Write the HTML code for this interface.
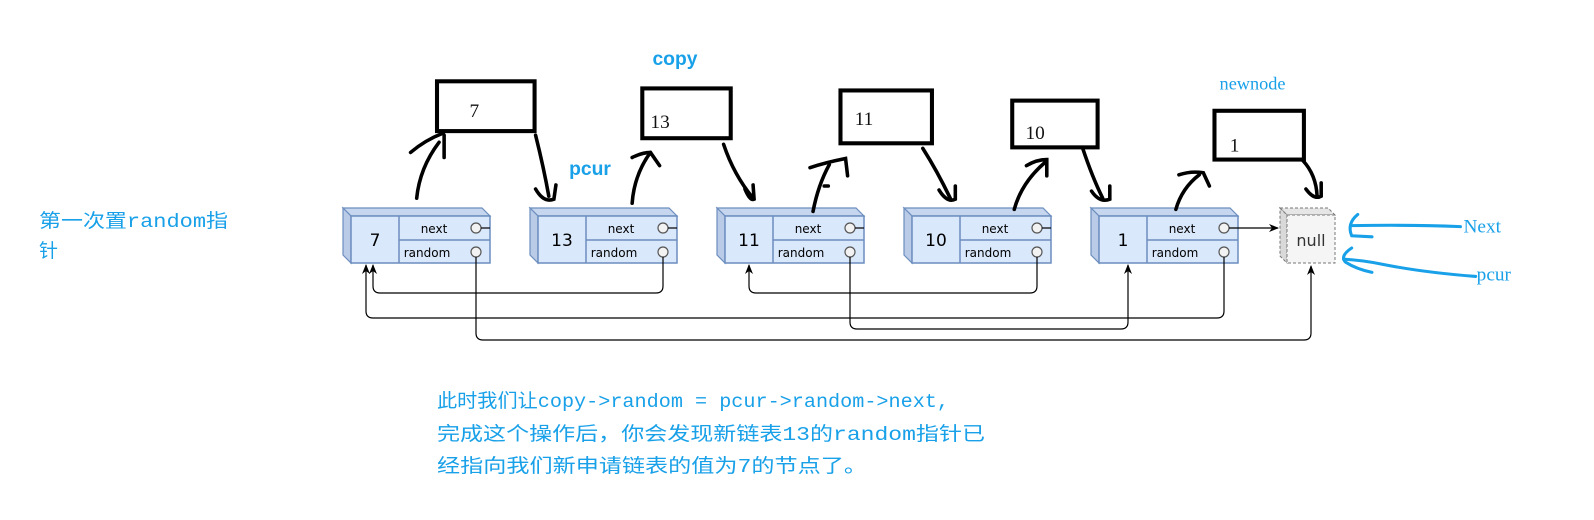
<!DOCTYPE html>
<html><head><meta charset="utf-8"><style>
html,body{margin:0;padding:0;background:#fff;}
svg{display:block;}
.nd{font-family:"DejaVu Sans","Liberation Sans",sans-serif;}
</style></head><body>
<svg width="1594" height="520" viewBox="0 0 1594 520" xmlns="http://www.w3.org/2000/svg">
<defs>
<marker id="ah" markerWidth="10" markerHeight="10" refX="9" refY="5" orient="auto" markerUnits="userSpaceOnUse">
<path d="M0,1 L10,5 L0,9 L3,5 Z" fill="#000"/></marker>
<g id="node">
<polygon points="0,0 139,0 147,8 8,8" fill="#c6d6ee" stroke="#6c8ebf" stroke-width="1.2"/>
<polygon points="0,0 8,8 8,55 0,47" fill="#b9cbe6" stroke="#6c8ebf" stroke-width="1.2"/>
<rect x="8" y="8" width="139" height="47" fill="#dae8fc" stroke="#6c8ebf" stroke-width="1.5"/>
<line x1="56" y1="8" x2="56" y2="55" stroke="#6c8ebf" stroke-width="1.5"/>
<line x1="56" y1="32" x2="147" y2="32" stroke="#6c8ebf" stroke-width="1.5"/>
<circle cx="133" cy="20" r="5" fill="#f2f2f2" stroke="#555" stroke-width="1.2"/>
<circle cx="133" cy="44" r="5" fill="#f2f2f2" stroke="#555" stroke-width="1.2"/>
<text x="91" y="25" font-size="12" text-anchor="middle" class="nd">next</text>
<text x="84" y="49" font-size="12" text-anchor="middle" class="nd">random</text>
</g>
</defs>

<!-- nodes -->
<g transform="translate(343,208)"><use href="#node"/><text x="32" y="38" font-size="17" text-anchor="middle" class="nd">7</text></g>
<g transform="translate(530,208)"><use href="#node"/><text x="32" y="38" font-size="17" text-anchor="middle" class="nd">13</text></g>
<g transform="translate(717,208)"><use href="#node"/><text x="32" y="38" font-size="17" text-anchor="middle" class="nd">11</text></g>
<g transform="translate(904,208)"><use href="#node"/><text x="32" y="38" font-size="17" text-anchor="middle" class="nd">10</text></g>
<g transform="translate(1091,208)"><use href="#node"/><text x="32" y="38" font-size="17" text-anchor="middle" class="nd">1</text></g>

<!-- null -->
<g transform="translate(1280,208)">
<polygon points="0,0 48,0 55,7 7,7" fill="#e6e6e6" stroke="#777" stroke-dasharray="3,2"/>
<polygon points="0,0 7,7 7,55 0,48" fill="#d9d9d9" stroke="#777" stroke-dasharray="3,2"/>
<rect x="7" y="7" width="48" height="48" fill="#f5f5f5" stroke="#777" stroke-dasharray="3,2"/>
<text x="31" y="38" font-size="16" text-anchor="middle" class="nd" fill="#333">null</text>
</g>

<!-- next stubs -->
<g stroke="#000" stroke-width="1.2" fill="none">
<line x1="481" y1="228" x2="490" y2="228"/>
<line x1="668" y1="228" x2="677" y2="228"/>
<line x1="855" y1="228" x2="864" y2="228"/>
<line x1="1042" y1="228" x2="1051" y2="228"/>
<line x1="1229" y1="228" x2="1278" y2="228" marker-end="url(#ah)"/>
</g>

<!-- random connectors -->
<g stroke="#000" stroke-width="1.2" fill="none">
<path d="M476 257 V333 Q476 340 483 340 H1304 Q1311 340 1311 333 V266" marker-end="url(#ah)"/>
<path d="M663 257 V286 Q663 293 656 293 H380 Q373 293 373 286 V265" marker-end="url(#ah)"/>
<path d="M1224 257 V311 Q1224 318 1217 318 H373 Q366 318 366 311 V265" marker-end="url(#ah)"/>
<path d="M1037 257 V286 Q1037 293 1030 293 H756 Q749 293 749 286 V265" marker-end="url(#ah)"/>
<path d="M850 257 V322 Q850 329 857 329 H1121 Q1128 329 1128 322 V265" marker-end="url(#ah)"/>
</g>

<g transform="scale(1.0163)">
<!-- hand-drawn boxes -->
<g stroke="#000" stroke-width="4" fill="#fff">
<rect x="430" y="80" width="96" height="49"/>
<rect x="632" y="87" width="87" height="49"/>
<rect x="827" y="89" width="90" height="52"/>
<rect x="996" y="99" width="84" height="46"/>
<rect x="1195" y="109" width="88" height="48"/>
</g>
<g font-family="Liberation Serif,serif" font-size="19" fill="#111">
<text x="462" y="115">7</text>
<text x="640" y="126">13</text>
<text x="841" y="123">11</text>
<text x="1009" y="137">10</text>
<text x="1210" y="149">1</text>
</g>

<!-- hand-drawn arrows -->
<g stroke="#000" stroke-width="3.5" fill="none" stroke-linecap="round">
<path d="M410 195 Q413 165 432 140"/><path d="M404 150 Q418 138 436 131"/><path d="M437 133 V155"/>
<path d="M527 133 Q535 165 540 193"/><path d="M527 186 Q535 200 545 196 L547 182"/>
<path d="M622 200 Q624 172 640 150"/><path d="M622 155 Q632 150 640 150 L649 163"/>
<path d="M712 142 Q722 172 741 195"/><path d="M733 186 Q738 198 742 196 L741 182"/>
<path d="M800 208 Q805 182 816 162"/><path d="M797 165 Q812 160 832 156 L834 173"/><path d="M811 183 L815 183"/>
<path d="M908 146 Q922 168 935 195"/><path d="M924 187 Q932 200 940 196 L940 183"/>
<path d="M998 206 Q1005 180 1028 160"/><path d="M1010 163 Q1020 157 1030 157 L1030 173"/>
<path d="M1065 145 Q1075 175 1085 195"/><path d="M1074 188 Q1082 200 1092 196 L1092 183"/>
<path d="M1157 206 Q1163 185 1180 172"/><path d="M1160 172 Q1172 168 1184 170 L1190 183"/>
<path d="M1282 158 Q1295 172 1296 193"/><path d="M1285 186 Q1293 197 1300 193 L1300 180"/>
</g>

<!-- blue hand-drawn -->
<g stroke="#18a0e8" stroke-width="3" fill="none" stroke-linecap="round">
<path d="M1437 223 Q1390 221 1330 222"/><path d="M1336 211 Q1325 220 1330 232 L1350 233"/>
<path d="M1452 272 Q1400 268 1360 260 Q1340 256 1322 255"/><path d="M1330 244 Q1318 252 1324 258 Q1335 265 1350 268"/>
</g>

<g fill="#18a0e8">
<text x="642" y="64" font-family="Liberation Sans,sans-serif" font-size="19" font-weight="bold">copy</text>
<text x="560" y="172" font-family="Liberation Sans,sans-serif" font-size="19" font-weight="bold">pcur</text>
<text x="1200" y="88" font-family="Liberation Serif,serif" font-size="18">newnode</text>
<text x="1440" y="229" font-family="Liberation Serif,serif" font-size="19">Next</text>
<text x="1453" y="276" font-family="Liberation Serif,serif" font-size="19">pcur</text>
</g>
</g>

<g fill="#18a0e8" font-family="Liberation Mono,'Noto Sans CJK SC',monospace" font-size="19">
<text x="39" y="227" textLength="189" lengthAdjust="spacingAndGlyphs">第一次置random指</text>
<text x="39" y="257">针</text>
<text x="437" y="407" textLength="512" lengthAdjust="spacingAndGlyphs">此时我们让copy-&gt;random = pcur-&gt;random-&gt;next,</text>
<text x="437" y="440" textLength="548" lengthAdjust="spacingAndGlyphs">完成这个操作后，你会发现新链表13的random指针已</text>
<text x="437" y="472" textLength="430" lengthAdjust="spacingAndGlyphs">经指向我们新申请链表的值为7的节点了。</text>
</g>
</svg>
</body></html>
